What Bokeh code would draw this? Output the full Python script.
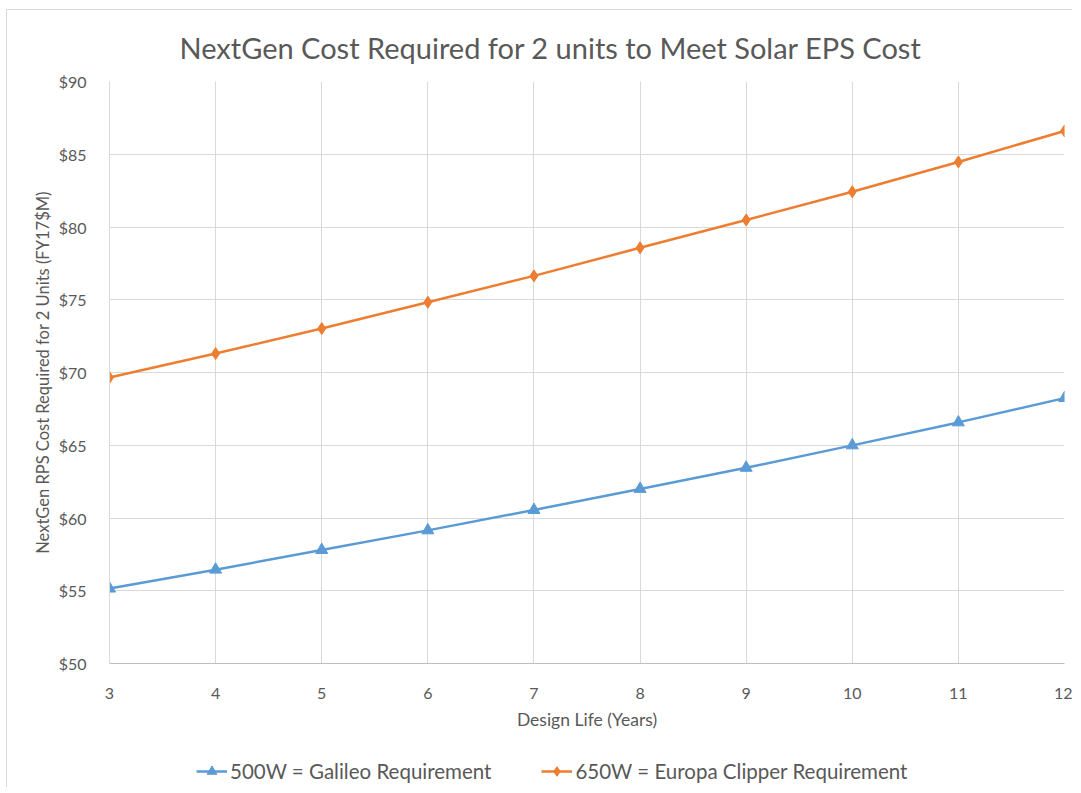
from bokeh.plotting import figure
from bokeh.layouts import column
from bokeh.models import FixedTicker, NumeralTickFormatter, Legend, LegendItem, Range1d
from bokeh.embed import file_html
from bokeh.resources import INLINE

design_life = [3, 4, 5, 6, 7, 8, 9, 10, 11, 12]
galileo_500w = [55.15, 56.45, 57.8, 59.15, 60.55, 62.0, 63.45, 64.99, 66.57, 68.24]
europa_650w = [69.65, 71.3, 73.02, 74.83, 76.64, 78.57, 80.48, 82.42, 84.47, 86.6]
y_ticks = [50, 55, 60, 65, 70, 75, 80, 85, 90]
series_names = ["500W = Galileo Requirement", "650W = Europa Clipper Requirement"]

FONT = "Lato"
TXT = "#595959"
GRID = "#D9D9D9"
BLUE = "#5B9BD5"
ORANGE = "#ED7D31"

p = figure(width=1065, height=722, output_backend="svg", toolbar_location=None,
           x_range=Range1d(3, 12), y_range=Range1d(50, 90),
           min_border_left=102, min_border_right=8, min_border_top=40, min_border_bottom=10)

p.title.text = "NextGen Cost Required for 2 units to Meet Solar EPS Cost"
p.title.align = "left"
p.title.offset = 70
p.title.text_font = FONT
p.title.text_font_style = "normal"
p.title.text_font_size = "29px"
p.title.text_color = TXT
p.title.standoff = 34

p.outline_line_color = None
p.background_fill_color = "white"
p.border_fill_color = "white"

p.xaxis.ticker = FixedTicker(ticks=design_life)
p.yaxis.ticker = FixedTicker(ticks=y_ticks)
p.yaxis.formatter = NumeralTickFormatter(format="$0")

for ax in (p.xaxis[0], p.yaxis[0]):
    ax.major_tick_line_color = None
    ax.minor_tick_line_color = None
    ax.major_label_text_font = FONT
    ax.major_label_text_font_size = "16px"
    ax.major_label_text_color = TXT
    ax.axis_label_text_font = FONT
    ax.axis_label_text_font_style = "normal"
    ax.axis_label_text_color = TXT

p.xaxis.axis_label_text_font_size = "17.5px"
p.yaxis.axis_label_text_font_size = "16.5px"
p.xaxis.axis_line_color = "#BFBFBF"
p.yaxis.axis_line_color = GRID
p.xaxis.major_label_standoff = 18
p.yaxis.major_label_standoff = 17
p.xaxis.axis_label = "Design Life (Years)"
p.yaxis.axis_label = "NextGen RPS Cost Required for 2 Units (FY17$M)"
p.xaxis.axis_label_standoff = 7
p.yaxis.axis_label_standoff = 3

p.xgrid.grid_line_color = GRID
p.ygrid.grid_line_color = GRID
p.xgrid.grid_line_width = 1
p.ygrid.grid_line_width = 1

p.line(design_life, galileo_500w, line_color=BLUE, line_width=2.5)
p.scatter(design_life, galileo_500w, marker="triangle", size=12, fill_color=BLUE, line_color=BLUE)
p.line(design_life, europa_650w, line_color=ORANGE, line_width=2.5)
p.scatter(design_life, europa_650w, marker="diamond", size=12, fill_color=ORANGE, line_color=ORANGE)

# legend strip below the chart; proxy renderers sit outside this strip's visible range
lg = figure(width=1065, height=55, output_backend="svg", toolbar_location=None,
            x_range=Range1d(0, 1), y_range=Range1d(0, 1),
            min_border_left=0, min_border_right=0, min_border_top=0, min_border_bottom=0)
lg.axis.visible = False
lg.grid.visible = False
lg.outline_line_color = None
lg.border_fill_color = "white"
l1 = lg.line(design_life[:2], galileo_500w[:2], line_color=BLUE, line_width=2.5)
m1 = lg.scatter(design_life[:1], galileo_500w[:1], marker="triangle", size=12, fill_color=BLUE, line_color=BLUE)
l2 = lg.line(design_life[:2], europa_650w[:2], line_color=ORANGE, line_width=2.5)
m2 = lg.scatter(design_life[:1], europa_650w[:1], marker="diamond", size=12, fill_color=ORANGE, line_color=ORANGE)

legend = Legend(items=[LegendItem(label=series_names[0], renderers=[l1, m1]),
                       LegendItem(label=series_names[1], renderers=[l2, m2])],
                location=(87, 4), orientation="horizontal",
                glyph_width=31, glyph_height=24, label_standoff=3, spacing=50,
                padding=0, margin=0, border_line_color=None, background_fill_alpha=0,
                label_text_font=FONT, label_text_font_size="20.5px", label_text_color=TXT)
lg.add_layout(legend, "center")

layout = column(p, lg, spacing=0)
layout.margin = (9, 0, 0, 6)
layout.styles = {"border-left": "1px solid #D9D9D9", "border-top": "1px solid #D9D9D9"}
open("out.html", "w").write(file_html(layout, INLINE))
